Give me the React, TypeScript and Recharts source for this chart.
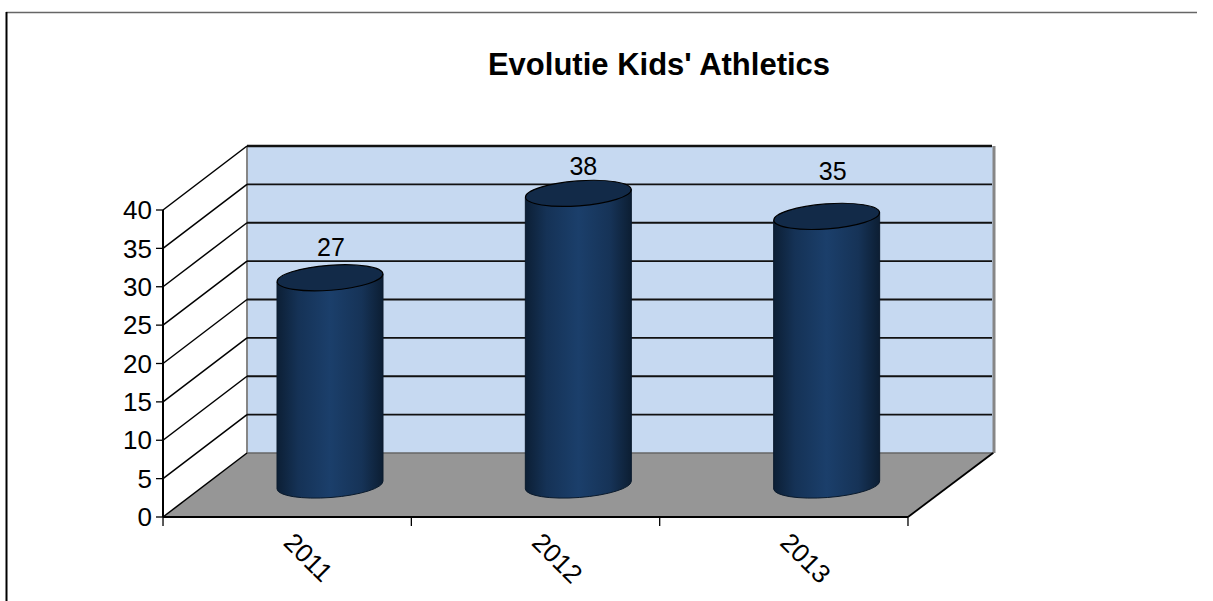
import React from "react";
import {
  BarChart,
  Bar,
  XAxis,
  YAxis,
  LabelList,
  usePlotArea,
} from "recharts";

const years = ["2011", "2012", "2013"];
const participants = [27, 38, 35];
const yTicks = [0, 5, 10, 15, 20, 25, 30, 35, 40];

const chartData = years.map((year, i) => ({ year, value: participants[i] }));

const FONT = "Liberation Sans, Arial, sans-serif";
const DEPTH_X = 84;
const DEPTH_Y = 64;
const Y_MAX = 40;
const TILT_DEG = -4.3;
// the value labels do not sit at a constant place above the cylinders
const labelLift = [30, 26, 44];
const labelShift = [0, 4, 5];

// back wall, floor, side wall of the fake 3d box
function Box() {
  const plot = usePlotArea();
  if (!plot) return null;
  const { x, y, width, height } = plot;
  const right = x + width;
  const bottom = y + height;
  const rowY = (t: number) => y + height * (1 - t / Y_MAX);
  return (
    <g>
      <rect x={x + DEPTH_X} y={y - DEPTH_Y} width={width + 2} height={height} fill="#c6d9f1" />
      <polygon
        points={`${x},${bottom} ${right},${bottom} ${right + DEPTH_X + 2},${bottom - DEPTH_Y} ${x + DEPTH_X},${bottom - DEPTH_Y}`}
        fill="#969696"
      />
      <line x1={x + DEPTH_X} x2={x + DEPTH_X} y1={y - DEPTH_Y} y2={bottom - DEPTH_Y} stroke="#868686" strokeWidth={2} />
      <line x1={right + DEPTH_X + 2} x2={right + DEPTH_X + 2} y1={y - DEPTH_Y} y2={bottom - DEPTH_Y} stroke="#868686" strokeWidth={3} />
      <line x1={x + DEPTH_X} x2={right + DEPTH_X + 2} y1={bottom - DEPTH_Y} y2={bottom - DEPTH_Y} stroke="#666" strokeWidth={1.5} />
      {yTicks.slice(1).map((t) => (
        <line
          key={`row-${t}`}
          x1={x + DEPTH_X}
          x2={right + DEPTH_X}
          y1={rowY(t) - DEPTH_Y}
          y2={rowY(t) - DEPTH_Y}
          stroke="#111"
          strokeWidth={t === Y_MAX ? 2.4 : 1.9}
        />
      ))}
      {yTicks.map((t) => (
        <line
          key={`side-${t}`}
          x1={x}
          y1={rowY(t)}
          x2={x + DEPTH_X}
          y2={rowY(t) - DEPTH_Y}
          stroke="#000"
          strokeWidth={1.5}
        />
      ))}
      <line x1={right} y1={bottom} x2={right + DEPTH_X + 1} y2={bottom - DEPTH_Y} stroke="#000" strokeWidth={1.8} />
    </g>
  );
}

function Frame() {
  return (
    <g>
      <line x1={6} x2={1197} y1={12.5} y2={12.5} stroke="#666" strokeWidth={1.5} />
      <line x1={6.5} x2={6.5} y1={12} y2={601} stroke="#000" strokeWidth={2} />
    </g>
  );
}

function Cylinder(props: any) {
  const { x, y, width, height } = props;
  const left = x + DEPTH_X / 2 + 1;
  const rx = width / 2;
  const cx = left + rx;
  const topY = y - DEPTH_Y / 2;
  const baseY = y + height - DEPTH_Y / 2;
  const ry = 12.5;
  const tilt = 4;
  const wall = `M${left},${topY + tilt} L${left},${baseY + tilt} A${rx},${ry} ${TILT_DEG} 0 0 ${left + width},${baseY - tilt} L${left + width},${topY - tilt} Z`;
  return (
    <g>
      <path d={wall} fill="url(#cylinderSide)" stroke="#0a1a2c" strokeWidth={1} />
      <ellipse
        cx={cx}
        cy={topY}
        rx={rx}
        ry={ry}
        transform={`rotate(${TILT_DEG} ${cx} ${topY})`}
        fill="#122a48"
        stroke="#000"
        strokeWidth={1.2}
      />
    </g>
  );
}

function ValueLabel(props: any) {
  const { x, y, width, value, index } = props;
  return (
    <text
      x={x + width / 2 + DEPTH_X / 2 + 2 + labelShift[index]}
      y={y - DEPTH_Y / 2 - labelLift[index] + 8}
      textAnchor="middle"
      fontFamily={FONT}
      fontSize={25}
      fill="#000"
    >
      {value}
    </text>
  );
}

function YearTick(props: any) {
  const { x, y, payload, index } = props;
  const step = 248.3;
  return (
    <g>
      <line x1={x - step / 2} x2={x - step / 2} y1={y - 8} y2={y + 1} stroke="#000" strokeWidth={1.3} />
      {index === years.length - 1 && (
        <line x1={x + step / 2} x2={x + step / 2} y1={y - 8} y2={y + 1} stroke="#000" strokeWidth={1.3} />
      )}
      <text
        x={x - 5}
        y={y + 19}
        transform={`rotate(45 ${x - 5} ${y + 19})`}
        fontFamily={FONT}
        fontSize={26}
        fill="#000"
      >
        {payload.value}
      </text>
    </g>
  );
}

export default function App() {
  return (
    <div style={{ position: "absolute", left: 0, top: 0, width: 1213, height: 601, background: "#fff" }}>
      <BarChart
        width={1213}
        height={601}
        data={chartData}
        margin={{ top: 210, right: 305, bottom: 0, left: 0 }}
        barSize={106}
      >
        <defs>
          <linearGradient id="cylinderSide" x1="0" x2="1" y1="0" y2="0">
            <stop offset="0" stopColor="#0c1f35" />
            <stop offset="0.2" stopColor="#153256" />
            <stop offset="0.5" stopColor="#1b3f6b" />
            <stop offset="0.8" stopColor="#163357" />
            <stop offset="1" stopColor="#0c1e33" />
          </linearGradient>
        </defs>
        <Frame />
        <Box />
        <text x={659} y={75} textAnchor="middle" fontFamily={FONT} fontSize={31} fontWeight="bold" fill="#000">
          Evolutie Kids' Athletics
        </text>
        <XAxis
          dataKey="year"
          interval={0}
          height={84}
          tick={<YearTick />}
          tickLine={false}
          axisLine={{ stroke: "#000", strokeWidth: 2 }}
        />
        <YAxis
          domain={[0, Y_MAX]}
          ticks={yTicks}
          width={163}
          interval={0}
          tickSize={7}
          tickMargin={4}
          tick={{ fill: "#000", fontSize: 26, fontFamily: FONT }}
          tickLine={{ stroke: "#000", strokeWidth: 1.3 }}
          axisLine={{ stroke: "#000", strokeWidth: 2 }}
        />
        <Bar dataKey="value" isAnimationActive={false} shape={<Cylinder />}>
          <LabelList dataKey="value" content={<ValueLabel />} />
        </Bar>
      </BarChart>
    </div>
  );
}
